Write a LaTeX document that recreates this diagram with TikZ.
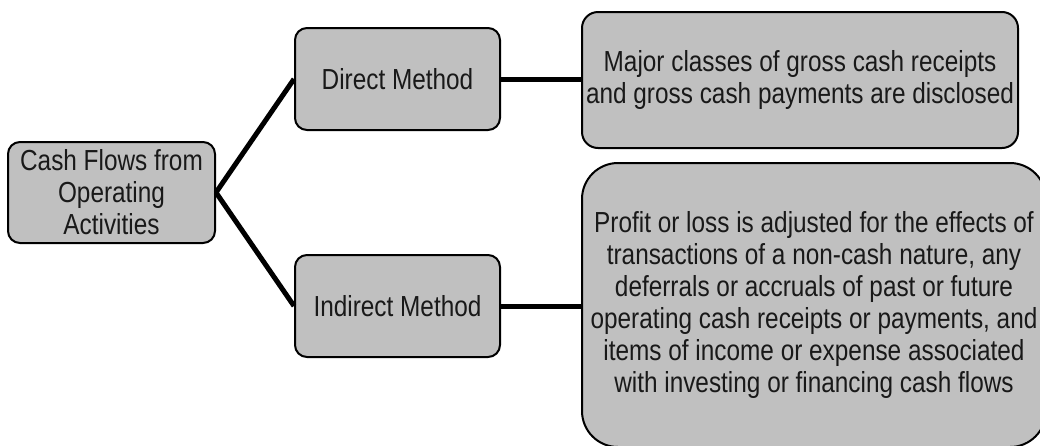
\documentclass[tikz,border=0pt]{standalone}
\usepackage{fontspec}
\setmainfont{Liberation Sans}[FakeStretch=0.84]
\usepackage{xcolor}
\usepackage{tikz}
\usetikzlibrary{arrows.meta}

\definecolor{boxgray}{RGB}{192,192,192}

\tikzset{
  box/.style={draw=black, line width=2pt, fill=boxgray, rounded corners=12pt,
    align=center, inner sep=0pt, text=black!90,
    font=\fontsize{29}{32}\selectfont},
  link/.style={line width=5pt}
}

\begin{document}
\begin{tikzpicture}[x=1pt, y=-1pt]
      \useasboundingbox (0,0) rectangle (1040,445);
      \clip (0,0) rectangle (1040,445);

      \node [box, minimum width=207pt, minimum height=101pt] (ops) at (111.5, 192.5)
        {Cash Flows from\\Operating\\Activities};
      \node [box, minimum width=205pt, minimum height=102pt] (direct) at (397.5, 79)
        {Direct Method};
      \node [box, minimum width=205pt, minimum height=102pt] (indirect) at (397.5, 306)
        {Indirect Method};
      \node [box, rounded corners=16pt, minimum width=436pt, minimum height=136pt] (dirtext) at (800, 80)
        {Major classes of gross cash receipts\\and gross cash payments are disclosed};
      \node [box, rounded corners=36pt, minimum width=464pt, minimum height=284pt] (indtext) at (814, 305)
        {Profit or loss is adjusted for the effects of\\transactions of a non-cash nature, any\\deferrals or accruals of past or future\\operating cash receipts or payments, and\\items of income or expense associated\\with investing or financing cash flows};

      \draw [link] (ops.east) -- (direct.west);
      \draw [link] (ops.east) -- (indirect.west);
      \draw [link] (direct.east) -- (direct.east -| dirtext.west);
      \draw [link] (indirect.east) -- (indirect.east -| indtext.west);
    \end{tikzpicture}
\end{document}
